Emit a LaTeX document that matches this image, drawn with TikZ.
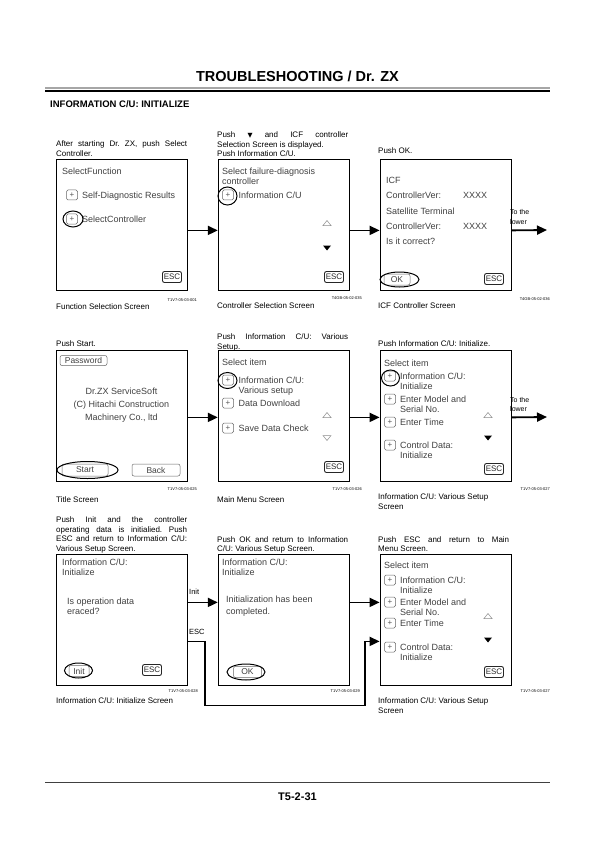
\documentclass[tikz,border=0pt]{standalone}
\usepackage{fontspec}
\setmainfont{Liberation Sans}
\newfontfamily\symfont{DejaVu Sans}
\usetikzlibrary{arrows.meta}
\usetikzlibrary{positioning}
\usetikzlibrary{shapes.geometric}

\begin{document}
\begin{tikzpicture}[
    x=1pt, y=-1pt,
    screen/.style={rectangle, draw, line width=0.8pt, minimum width=131pt, minimum height=131pt, anchor=north west, inner sep=0pt},
    caption/.style={anchor=base west, inner sep=0pt, text width=131pt, align=justify, font={\fontsize{8}{9.5}\selectfont\frenchspacing\hyphenpenalty=10000}},
    scrname/.style={anchor=base west, inner sep=0pt, align=left, font=\fontsize{8}{10.5}\selectfont},
    figid/.style={anchor=base east, inner sep=0pt, font=\fontsize{4}{4}\selectfont},
    item/.style={anchor=base west, inner sep=0pt, align=left, text=black!75, font=\fontsize{9}{10.5}\selectfont},
    plusbox/.style={draw=black!60, rounded corners=1.5pt, line width=0.5pt, minimum width=11pt, minimum height=10pt, inner sep=0pt, text=black!65, font=\fontsize{8}{8}\selectfont},
    escbtn/.style={draw=black!85, rounded corners=2pt, line width=0.9pt, minimum width=19pt, minimum height=11pt, inner sep=0pt, text=black!85, font=\fontsize{8}{8}\selectfont},
    button/.style={draw=black!60, rounded corners=2pt, line width=0.5pt, minimum height=11pt, inner sep=0pt, text=black!75, font=\fontsize{8.5}{8.5}\selectfont},
    hilite/.style={ellipse, draw, line width=1pt, inner sep=0pt},
    uptri/.style={draw=black!45, line width=0.5pt},
    dntri/.style={fill=black},
    flow/.style={-{Triangle[length=10pt,width=9pt]}, line width=1.8pt},
    side/.style={anchor=base west, inner sep=0pt, align=left, font=\fontsize{7}{9.5}\selectfont}
    ]
    \useasboundingbox (0,0) rectangle (595,842);

    % Header
    \node[font=\fontsize{14.5}{14.5}\selectfont\bfseries] (title) at (297.5,76) {TROUBLESHOOTING / Dr. ZX};
    \draw[black!35, line width=2pt] (45,88) -- (550,88);
    \draw[line width=1.2pt] (45,91) -- (550,91);
    \node[anchor=base west, inner sep=0pt, font=\fontsize{9.5}{9.5}\selectfont\bfseries] (sect) at (50,107.5) {INFORMATION C/U: INITIALIZE};

    % Screens
    \node[screen] (s1) at (56,159) {};
    \node[screen, right=30pt of s1] (s2) {};
    \node[screen, right=30pt of s2] (s3) {};
    \node[screen] (s4) at (56,350) {};
    \node[screen, right=30pt of s4] (s5) {};
    \node[screen, right=30pt of s5] (s6) {};
    \node[screen] (s7) at (56,554) {};
    \node[screen, right=30pt of s7] (s8) {};
    \node[screen, right=30pt of s8] (s9) {};

    % Captions above
    \node[caption] (c1) at (56,147) {After starting Dr. ZX, push Select\linebreak Controller.};
    \node[caption] (c2) at (217,138) {Push {\symfont\fontsize{6.5}{6.5}\selectfont ▼} and ICF controller\linebreak Selection Screen is displayed.\newline Push Information C/U.};
    \node[caption] (c3) at (378,154) {Push OK.};
    \node[caption] (c4) at (56,346) {Push Start.};
    \node[caption] (c5) at (217,339.5) {Push Information C/U: Various\linebreak Setup.};
    \node[caption] (c6) at (378,346) {Push Information C/U: Initialize.};
    \node[caption] (c7) at (56,522.5) {Push Init and the controller\linebreak operating data is initialied. Push\linebreak ESC and return to Information C/U:\linebreak Various Setup Screen.};
    \node[caption] (c8) at (217,542) {Push OK and return to Information\linebreak C/U: Various Setup Screen.};
    \node[caption] (c9) at (378,542) {Push ESC and return to Main\linebreak Menu Screen.};

    % Figure ids and screen names
    \node[figid] (id1) at (197,301) {T1V7-05-03-001};
    \node[figid] (id2) at (362,299) {T4GB-05-02-035};
    \node[figid] (id3) at (550,300) {T4GB-05-02-036};
    \node[figid] (id4) at (197,490) {T1V7-05-03-025};
    \node[figid] (id5) at (362,490) {T1V7-05-03-026};
    \node[figid] (id6) at (550,490) {T1V7-05-03-027};
    \node[figid] (id7) at (198,692) {T1V7-05-03-028};
    \node[figid] (id8) at (360,692) {T1V7-05-03-029};
    \node[figid] (id9) at (550,692) {T1V7-05-03-027};
    \node[scrname] (n1) at (56,309.5) {Function Selection Screen};
    \node[scrname] (n2) at (217,308.5) {Controller Selection Screen};
    \node[scrname] (n3) at (378,308) {ICF Controller Screen};
    \node[scrname] (n4) at (56,502.5) {Title Screen};
    \node[scrname] (n5) at (217,502.5) {Main Menu Screen};
    \node[scrname] (n6) at (378,509.5) {Information C/U: Various Setup\\Screen};
    \node[scrname] (n7) at (56,703) {Information C/U: Initialize Screen};
    \node[scrname] (n9) at (378,713.5) {Information C/U: Various Setup\\Screen};

    % Function Selection Screen
    \node[item] (t1) at (62,174.2) {SelectFunction};
    \node[plusbox] (p1a) at (72,195) {+};
    \node[item] (t1a) at (82,198.2) {Self-Diagnostic Results};
    \node[plusbox] (p1b) at (72,219) {+};
    \node[item] (t1b) at (82,222.2) {SelectController};
    \node[hilite, minimum width=20pt, minimum height=16pt] (h1) at (73,219) {};
    \node[escbtn] (e1) at (172,277) {ESC};

    % Controller Selection Screen
    \node[item] (t2) at (222,184.7) {Select failure-diagnosis\\controller};
    \node[plusbox] (p2a) at (228,195) {+};
    \node[item] (t2a) at (238.5,198.2) {Information C/U};
    \node[hilite, minimum width=19pt, minimum height=18pt] (h2) at (227.5,196) {};
    \draw[uptri] (327,223) ++(0,-2.5) -- ++(4,5) -- ++(-8,0) -- cycle;
    \fill[dntri] (327,248) ++(-4,-2.5) -- ++(8,0) -- ++(-4,5) -- cycle;
    \node[escbtn] (e2) at (334,277) {ESC};

    % ICF Controller Screen
    \node[item] (t3a) at (386,183.2) {ICF};
    \node[item] (t3b) at (386,198.7) {ControllerVer:};
    \node[item] (t3c) at (463,198.7) {XXXX};
    \node[item] (t3d) at (386,214.2) {Satellite Terminal};
    \node[item] (t3e) at (386,229.2) {ControllerVer:};
    \node[item] (t3f) at (463,229.2) {XXXX};
    \node[item] (t3g) at (386,244.2) {Is it correct?};
    \node[button, minimum width=26pt] (ok1) at (397,279.5) {OK};
    \node[hilite, minimum width=39pt, minimum height=15pt] (h3) at (399.5,279.5) {};
    \node[escbtn] (e3) at (494,279) {ESC};

    % Title Screen
    \node[button, minimum width=47pt, minimum height=10pt] (pw) at (83.5,360.5) {Password};
    \node[item, anchor=base, align=center, font=\fontsize{9}{13}\selectfont] (t4) at (121.5,420.2) {Dr.ZX ServiceSoft\\(C) Hitachi Construction\\Machinery Co., ltd};
    \node[button, minimum width=46pt, minimum height=12pt] (start) at (85,470) {Start};
    \node[button, minimum width=48pt, minimum height=12pt] (back) at (156,470) {Back};
    \node[hilite, minimum width=61pt, minimum height=17pt] (h4) at (87.5,470) {};

    % Main Menu Screen
    \node[item] (t5) at (222,365.2) {Select item};
    \node[plusbox] (p5a) at (228,380) {+};
    \node[item] (t5a) at (238.5,393.7) {Information C/U:\\Various setup};
    \node[hilite, minimum width=19pt, minimum height=16pt] (h5) at (227.5,380.5) {};
    \node[plusbox] (p5b) at (228,403) {+};
    \node[item] (t5b) at (238.5,406.2) {Data Download};
    \node[plusbox] (p5c) at (228,428) {+};
    \node[item] (t5c) at (238.5,431.2) {Save Data Check};
    \draw[uptri] (327,415) ++(0,-2.5) -- ++(4,5) -- ++(-8,0) -- cycle;
    \draw[uptri] (327,438) ++(-4,-2.5) -- ++(8,0) -- ++(-4,5) -- cycle;
    \node[escbtn] (e5) at (334,467) {ESC};

    % Information C/U: Various Setup Screen
    \node[item] (t6) at (384,366.2) {Select item};
    \node[plusbox] (p6a) at (390,376) {+};
    \node[item] (t6a) at (400,389.7) {Information C/U:\\Initialize};
    \node[hilite, minimum width=18pt, minimum height=16pt] (h6) at (390.5,378) {};
    \node[plusbox] (p6b) at (390,399) {+};
    \node[item] (t6b) at (400,412.7) {Enter Model and\\Serial No.};
    \node[plusbox] (p6c) at (390,422) {+};
    \node[item] (t6c) at (400,425.2) {Enter Time};
    \node[plusbox] (p6d) at (390,445) {+};
    \node[item] (t6d) at (400,458.7) {Control Data:\\Initialize};
    \draw[uptri] (488,415) ++(0,-2.5) -- ++(4,5) -- ++(-8,0) -- cycle;
    \fill[dntri] (488,438) ++(-4,-2.5) -- ++(8,0) -- ++(-4,5) -- cycle;
    \node[escbtn] (e6) at (494,469) {ESC};

    % Information C/U: Initialize Screen
    \node[item] (t7) at (62,575.7) {Information C/U:\\Initialize};
    \node[item] (t7a) at (67,614.7) {Is operation data\\eraced?};
    \node[button, minimum width=20pt] (init) at (79,671) {Init};
    \node[hilite, minimum width=28pt, minimum height=15pt] (h7) at (78.5,670.5) {};
    \node[escbtn] (e7) at (152,670) {ESC};

    % Initialize completed screen
    \node[item] (t8) at (222,575.7) {Information C/U:\\Initialize};
    \node[item, font=\fontsize{9}{12}\selectfont] (t8a) at (226,614.2) {Initialization has been\\completed.};
    \node[button, minimum width=28pt] (ok2) at (247.5,672) {OK};
    \node[hilite, minimum width=38pt, minimum height=16pt] (h8) at (246,672) {};

    % Information C/U: Various Setup Screen (again)
    \node[item] (t9) at (384,568.2) {Select item};
    \node[plusbox] (p9a) at (390,580) {+};
    \node[item] (t9a) at (400,593.7) {Information C/U:\\Initialize};
    \node[plusbox] (p9b) at (390,602) {+};
    \node[item] (t9b) at (400,615.7) {Enter Model and\\Serial No.};
    \node[plusbox] (p9c) at (390,623) {+};
    \node[item] (t9c) at (400,626.2) {Enter Time};
    \node[plusbox] (p9d) at (390,647) {+};
    \node[item] (t9d) at (400,660.7) {Control Data:\\Initialize};
    \draw[uptri] (488,616) ++(0,-2.5) -- ++(4,5) -- ++(-8,0) -- cycle;
    \fill[dntri] (488,640) ++(-4,-2.5) -- ++(8,0) -- ++(-4,5) -- cycle;
    \node[escbtn] (e9) at (494,672) {ESC};

    % Connectors
    \coordinate (low1) at (547,230);
    \coordinate (low2) at (547,417);
    \draw[flow] ([yshift=-5.5pt]s1.east) -- ([yshift=-5.5pt]s2.west);
    \draw[flow] ([yshift=-5.5pt]s2.east) -- ([yshift=-5.5pt]s3.west);
    \draw[flow] ([yshift=-5.5pt]s3.east) -- (low1);
    \node[side] (lw1) at (510,224) {To the\\lower};
    \draw[flow] ([yshift=-1.5pt]s4.east) -- ([yshift=-1.5pt]s5.west);
    \draw[flow] ([yshift=-1.5pt]s5.east) -- ([yshift=-1.5pt]s6.west);
    \draw[flow] ([yshift=-1.5pt]s6.east) -- (low2);
    \node[side] (lw2) at (510,411.5) {To the\\lower};
    \draw[flow] ([yshift=17.5pt]s7.east) -- ([yshift=17.5pt]s8.west);
    \draw[flow] ([yshift=17.5pt]s8.east) -- ([yshift=17.5pt]s9.west);
    \draw[flow] ([yshift=-21.5pt]s7.east) -- ++(17,0) -- ++(0,64) -| ([xshift=15pt,yshift=-21.5pt]s8.east) -- ([yshift=-21.5pt]s9.west);
    \node[side, font=\fontsize{7.5}{7.5}\selectfont] (linit) at (189,594.5) {Init};
    \node[side, font=\fontsize{7.5}{7.5}\selectfont] (lesc) at (189,634.5) {ESC};

    % Footer
    \draw[black!75, line width=0.8pt] (45,782) -- (550,782);
    \node[font=\fontsize{11}{11}\selectfont\bfseries] (page) at (297.5,797) {T5-2-31};
\end{tikzpicture}
\end{document}
